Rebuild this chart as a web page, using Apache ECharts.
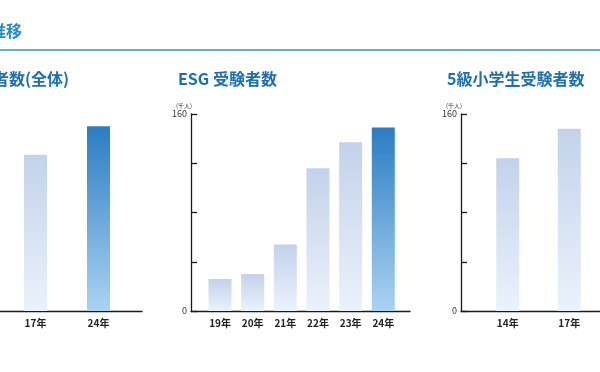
<!DOCTYPE html>
<html>
<head>
<meta charset="utf-8">
<script src="https://cdn.jsdelivr.net/npm/echarts@6/dist/echarts.min.js"></script>
<style>
html,body{margin:0;padding:0;background:#fff;}
#c{width:600px;height:372px;}
</style>
</head>
<body>
<div id="c"></div>
<script>
// ---- data ----
const allCategories = ['17年', '24年'];
const allValues = [127, 150];
const esgCategories = ['19年', '20年', '21年', '22年', '23年', '24年'];
const esgValues = [26, 30, 54, 116, 137, 149];
const kidsCategories = ['14年', '17年'];
const kidsValues = [124, 148];
const yTickLabels = ['0', '160'];
const highlightAll = '24年';
const highlightEsg = '24年';

const FONT = '"Noto Sans CJK JP", "Noto Sans", sans-serif';
const TOP = 114, H = 197;

const lightGrad = new echarts.graphic.LinearGradient(0, 0, 0, 1, [
  {offset: 0, color: '#c3d2eb'}, {offset: 1, color: '#eaf2fb'}]);
const darkGrad = new echarts.graphic.LinearGradient(0, 0, 0, 1, [
  {offset: 0, color: '#2a7dc3'}, {offset: 1, color: '#abd3f1'}]);

function barData(cats, vals, hi) {
  return vals.map((v, i) => ({value: v, itemStyle: {color: cats[i] === hi ? darkGrad : lightGrad}}));
}

const axisLineStyle = {color: '#1a1a1a', width: 1.3};

// frame grids (axis lines), bar grids (category bars)
const grids = [
  {left: 0, width: 142, top: TOP, height: H},     // 0 frame all (y axis off-screen)
  {left: 191, width: 219, top: TOP, height: H},   // 1 frame esg
  {left: 461, width: 219, top: TOP, height: H},   // 2 frame kids
  {left: 4, width: 126, top: TOP, height: H},     // 3 bars all
  {left: 203.7, width: 195.9, top: TOP, height: H}, // 4 bars esg
  {left: 477, width: 126, top: TOP, height: H}    // 5 bars kids
];

const xAxes = [], yAxes = [];
for (let i = 0; i < 3; i++) {
  xAxes.push({gridIndex: i, type: 'value', min: 0, max: 1,
    axisLine: {show: true, lineStyle: axisLineStyle}, axisTick: {show: false},
    axisLabel: {show: false}, splitLine: {show: false}});
  yAxes.push({gridIndex: i, type: 'value', min: 0, max: 160, interval: 40, show: i !== 0,
    name: '(千人)', nameLocation: 'end', nameGap: 5,
    nameTextStyle: {fontSize: 6, color: '#333', align: 'right', fontFamily: FONT, padding: [0, -1, 0, 0]},
    axisLine: {show: true, lineStyle: axisLineStyle},
    axisTick: {show: true, inside: true, length: 6, lineStyle: axisLineStyle},
    axisLabel: {margin: 4, fontSize: 9, color: '#333', fontFamily: FONT,
      formatter: v => (yTickLabels.indexOf(String(v)) >= 0 ? String(v) : '')},
    splitLine: {show: false}});
}
[allCategories, esgCategories, kidsCategories].forEach((cats, k) => {
  xAxes.push({gridIndex: 3 + k, type: 'category', data: cats,
    axisLine: {show: false}, axisTick: {show: false},
    axisLabel: {margin: 7, fontSize: 10, fontWeight: 'bold', color: '#222', fontFamily: FONT}});
  yAxes.push({gridIndex: 3 + k, type: 'value', min: 0, max: 160, show: false});
});

const option = {
  animation: false,
  backgroundColor: '#fff',
  title: [
    {text: '受験者数(全体)', right: 531, top: 71, padding: 0,
      textStyle: {fontSize: 16, fontWeight: 'bold', color: '#1d6fb3', fontFamily: FONT}},
    {text: 'ESG 受験者数', left: 178, top: 71, padding: 0,
      textStyle: {fontSize: 16, fontWeight: 'bold', color: '#1d6fb3', fontFamily: FONT}},
    {text: '5級小学生受験者数', left: 447, top: 71, padding: 0,
      textStyle: {fontSize: 16, fontWeight: 'bold', color: '#1d6fb3', fontFamily: FONT}}
  ],
  graphic: [
    {type: 'text', right: 578, top: 23,
      style: {text: '推移', font: 'bold 16px ' + FONT, fill: '#2489cf'}},
    {type: 'line', shape: {x1: 0, y1: 50, x2: 600, y2: 50},
      style: {stroke: '#3f8fc2', lineWidth: 1.5}}
  ],
  grid: grids,
  xAxis: xAxes,
  yAxis: yAxes,
  series: [
    {type: 'bar', xAxisIndex: 3, yAxisIndex: 3, barWidth: 23, data: barData(allCategories, allValues, highlightAll)},
    {type: 'bar', xAxisIndex: 4, yAxisIndex: 4, barWidth: 23, data: barData(esgCategories, esgValues, highlightEsg)},
    {type: 'bar', xAxisIndex: 5, yAxisIndex: 5, barWidth: 23, data: barData(kidsCategories, kidsValues, null)}
  ]
};
const chart = echarts.init(document.getElementById('c'), null, {renderer: 'canvas'});
chart.setOption(option);
</script>
</body>
</html>
